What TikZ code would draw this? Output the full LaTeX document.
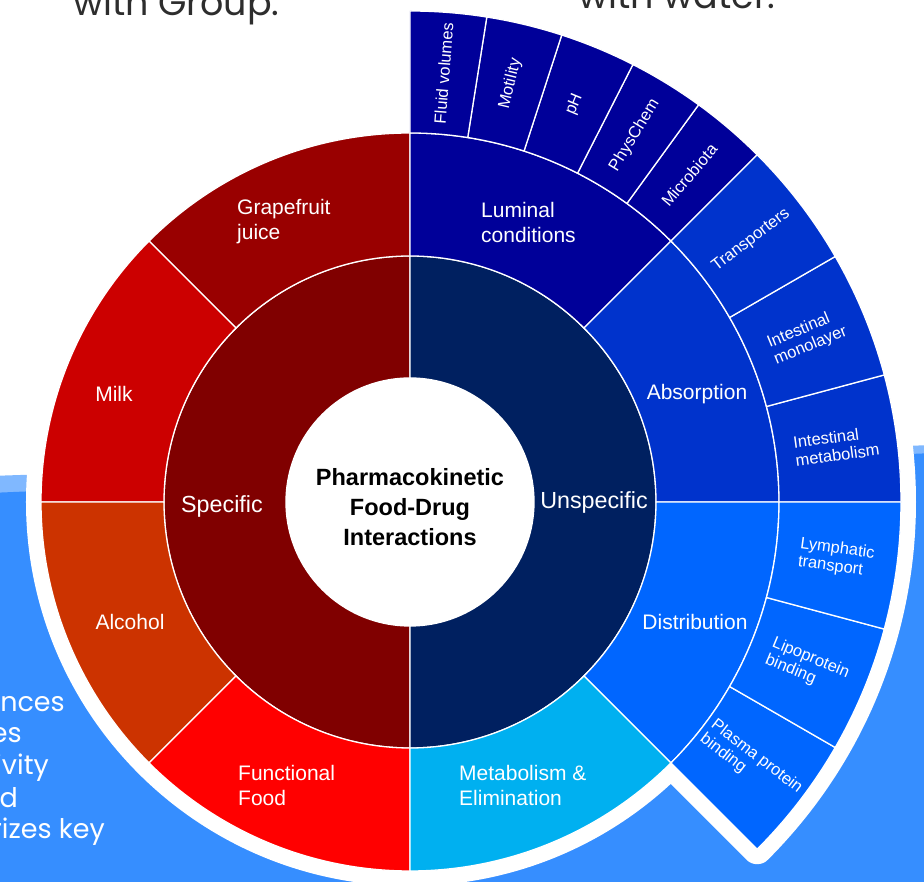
\documentclass[tikz,border=0pt]{standalone}
\usepackage{fontspec}
\setmainfont{Liberation Sans}
\newfontfamily\slidefont{Poppins}

\definecolor{slideblue}{RGB}{54,142,255}
\definecolor{slidelight}{RGB}{128,184,255}
\definecolor{slidegray}{RGB}{45,45,45}
\definecolor{specred}{HTML}{800000}
\definecolor{unspecnavy}{HTML}{002060}
\definecolor{grapered}{HTML}{990000}
\definecolor{milkred}{HTML}{CC0000}
\definecolor{alcored}{HTML}{CC3300}
\definecolor{funcred}{HTML}{FF0000}
\definecolor{lumblue}{HTML}{000099}
\definecolor{absblue}{HTML}{0033CC}
\definecolor{distblue}{HTML}{0066FF}
\definecolor{metcyan}{HTML}{00B0F0}

% one ring segment: colour, inner radius, outer radius, start angle, end angle
\newcommand{\ringpart}[5]{%
  \fill[#1, seg] (#4:#2) arc[start angle=#4, end angle=#5, radius=#2]
    -- (#5:#3) arc[start angle=#5, end angle=#4, radius=#3] -- cycle;}

\begin{document}
\begin{tikzpicture}[
  x=1pt, y=1pt,
  seg/.style={draw=white, line width=1.3pt, line join=round},
  mid/.style={text=white, inner sep=0pt, align=left, font=\fontsize{21}{25}\selectfont},
  hub/.style={text=white, inner sep=0pt, font=\fontsize{23.3}{28}\selectfont},
  leaf/.style={text=white, inner sep=0pt, align=left, font=\fontsize{16.5}{18}\selectfont},
  slide/.style={text=slidegray, inner sep=0pt, font=\slidefont\fontsize{36.5}{44}\selectfont},
  body/.style={text=white, inner sep=0pt, font=\slidefont\fontsize{27}{32}\selectfont}
]
\useasboundingbox (-410,-380) rectangle (514,502);
\clip (-410,-380) rectangle (514,502);

% slide background behind the chart
\fill[slidelight] (-420,26) -- (524,57) -- (524,-390) -- (-420,-390) -- cycle;
\fill[slideblue] (-420,9) -- (524,49) -- (524,-390) -- (-420,-390) -- cycle;

\node[slide, anchor=base west] (grouptxt) at (-337,486) {with Group.};
\node[slide, anchor=base west] (watertxt) at (168,493) {with water.};

\node[body, anchor=base east] (l1) at (-345,-210) {ances};
\node[body, anchor=base east] (l2) at (-388,-241) {es};
\node[body, anchor=base east] (l3) at (-361,-273) {ivity};
\node[body, anchor=base east] (l4) at (-392,-306) {d};
\node[body, anchor=base east] (l5) at (-305,-337) {rizes key};

% white outline of the whole chart
\filldraw[white, line width=30pt, line join=round]
  (90:369) arc[start angle=90, end angle=315, radius=369]
  -- (-45:491) arc[start angle=-45, end angle=90, radius=491] -- cycle;

% inner ring
\ringpart{specred}{124}{246}{90}{270}
\ringpart{unspecnavy}{124}{246}{-90}{90}

% middle ring
\ringpart{grapered}{246}{369}{90}{135}
\ringpart{milkred}{246}{369}{135}{180}
\ringpart{alcored}{246}{369}{180}{225}
\ringpart{funcred}{246}{369}{225}{270}
\ringpart{lumblue}{246}{369}{45}{90}
\ringpart{absblue}{246}{369}{0}{45}
\ringpart{distblue}{246}{369}{-45}{0}
\ringpart{metcyan}{246}{369}{-90}{-45}

% outer ring
\foreach \a in {45,54,...,81} {\ringpart{lumblue}{369}{491}{\a}{\a+9}}
\foreach \a in {0,15,30} {\ringpart{absblue}{369}{491}{\a}{\a+15}}
\foreach \a in {-45,-30,-15} {\ringpart{distblue}{369}{491}{\a}{\a+15}}

\fill[white] (0,0) circle[radius=124];

\node[align=center, inner sep=0pt, font=\bfseries\fontsize{23.5}{30}\selectfont] (title) at (0,-5)
  {Pharmacokinetic\\Food-Drug\\Interactions};

\node[hub] (specific) at (-188,-4) {Specific};
\node[hub] (unspecific) at (184,0) {Unspecific};

\node[mid, anchor=west] (grapefruit) at (-173,280) {Grapefruit\\juice};
\node[mid] (milk) at (-296,108) {Milk};
\node[mid] (alcohol) at (-280,-120) {Alcohol};
\node[mid, anchor=west] (functional) at (-172,-283) {Functional\\Food};
\node[mid, anchor=west] (luminal) at (71,279) {Luminal\\conditions};
\node[mid] (absorption) at (287,108) {Absorption};
\node[mid] (distribution) at (285,-120) {Distribution};
\node[mid, anchor=west] (metabolism) at (49,-283) {Metabolism \&\\Elimination};

\foreach \a/\txt [count=\i] in {85.5/Fluid volumes, 76.5/Motility, 67.5/pH,
    58.5/PhysChem, 49.5/Microbiota, 37.5/Transporters,
    22.5/{Intestinal\\monolayer}, 7.5/{Intestinal\\metabolism},
    -7.5/{Lymphatic\\transport}, -22.5/{Lipoprotein\\binding},
    -37.5/{Plasma protein\\binding}}
  \node[leaf, rotate=\a] (leaf\i) at (\a:430) {\txt};

\end{tikzpicture}
\end{document}
